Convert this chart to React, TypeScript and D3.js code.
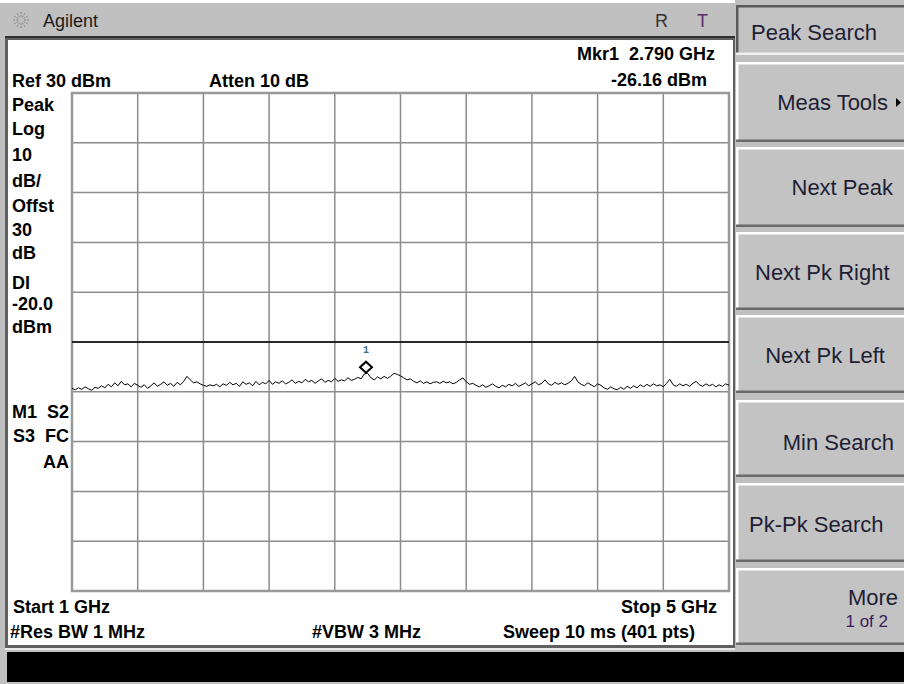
import React from 'react';
import * as d3 from 'd3';

const startGHz = 1;
const stopGHz = 5;
const refLevel = 30;
const dbPerDiv = 10;
const numDivs = 10;
const displayLine = -20;
const markerFreq = 2.79;
const markerLevel = -26.16;

const trace: number[] = [
  -29.3, -29.6, -29.2, -29.5, -29.0, -29.4, -29.7, -29.1, -29.3, -28.8, -29.2,
  -28.5, -29.0, -28.2, -28.8, -27.9, -28.6, -28.4, -29.0, -28.3, -28.7,
  -29.1, -28.6, -29.3, -28.8, -28.2, -28.9, -28.5, -28.0, -28.7, -28.3,
  -28.9, -28.1, -28.6, -27.9, -26.9,
  -27.6, -28.2, -28.0, -28.4, -28.7, -28.9, -28.6, -28.8, -28.5, -29.0,
  -28.4, -28.7, -28.1, -28.6, -28.3, -28.9, -28.0, -28.5, -28.2, -28.8,
  -27.9, -28.6, -28.1, -28.4, -27.7, -28.5, -28.0, -28.3, -27.8, -28.4,
  -28.1, -27.6, -28.3, -27.9, -28.2, -27.5, -28.0, -27.7, -28.3, -27.8,
  -27.4, -28.1, -27.7, -28.0, -27.3, -27.9, -27.6, -27.8, -27.2, -27.7,
  -27.5, -27.1, -27.4, -26.4, -26.3, -27.2, -27.6, -27.0, -27.4, -26.9,
  -27.3, -26.9, -26.3, -26.5, -26.8, -27.2, -27.6, -27.4, -27.9, -28.2, -27.8, -28.3, -28.0, -28.4, -28.1,
  -28.0, -28.3, -27.9, -28.2, -28.0, -28.4, -28.1, -27.6, -27.2, -28.0,
  -28.5, -28.3, -28.7, -29.0, -28.6, -29.1, -28.8, -28.4, -28.9, -29.2,
  -28.7, -29.0, -28.5, -28.8, -28.3, -28.9, -28.6, -28.2, -28.8, -28.4,
  -28.0, -28.6, -28.3, -27.6, -28.4, -28.7, -28.1, -28.5, -28.2, -28.6,
  -28.3, -27.8, -26.9, -28.0, -28.5, -28.8, -28.2, -28.6, -29.0, -28.4,
  -28.7, -29.2, -29.5, -29.0, -29.4, -29.6, -29.1, -29.5, -28.9, -29.3,
  -28.8, -29.2, -28.6, -29.0, -28.5, -28.9, -28.4, -28.8, -28.6, -29.0,
  -28.3, -27.5, -28.6, -28.9, -28.4, -28.8, -28.5, -28.9, -28.3, -27.9,
  -28.6, -28.9, -28.4, -28.8, -28.5, -29.0, -28.6, -28.9, -28.4, -28.7,
];

const leftLabels = ['Peak', 'Log', '10', 'dB/', 'Offst', '30', 'dB', 'DI', '-20.0', 'dBm'];
const softkeys = ['Peak Search', 'Meas Tools', 'Next Peak', 'Next Pk Right', 'Next Pk Left', 'Min Search', 'Pk-Pk Search', 'More'];

const BOLD = "'Liberation Sans', Arial, sans-serif";

export default function App() {
  const gx0 = 72, gx1 = 729, gy0 = 93, gy1 = 591;
  const x = d3.scaleLinear().domain([startGHz, stopGHz]).range([gx0, gx1]);
  const y = d3.scaleLinear().domain([refLevel - dbPerDiv * numDivs, refLevel]).range([gy1, gy0]);
  const n = trace.length;
  const freqs = d3.range(n).map((i) => startGHz + (i * (stopGHz - startGHz)) / (n - 1));
  const line = d3.line<number>().x((_, i) => x(freqs[i])).y((d) => y(d));
  const vTicks = d3.range(numDivs + 1).map((i) => startGHz + (i * (stopGHz - startGHz)) / numDivs);
  const hTicks = d3.range(numDivs + 1).map((i) => refLevel - i * dbPerDiv);

  const mx = x(markerFreq);
  const my = y(markerLevel);

  const leftY = [111, 135, 161, 187, 212, 236, 259, 289, 310, 333];
  const keyTops = [5, 62, 147, 232, 315, 400, 483, 568];
  const keyH = [50, 80, 80, 78, 78, 77, 79, 77];

  const burst = d3.range(12).map((i) => {
    const a = (i * Math.PI) / 6;
    return { x1: 21 + Math.cos(a) * 3, y1: 20 + Math.sin(a) * 3, x2: 21 + Math.cos(a) * 8, y2: 20 + Math.sin(a) * 8 };
  });

  const keyText = (k: string, i: number) => {
    const top = keyTops[i];
    const fs = 22;
    const col = '#1e1e34';
    switch (i) {
      case 0:
        return <text x={751} y={40} fontSize={fs} fill={col}>{k}</text>;
      case 1:
        return (
          <g>
            <text x={888} y={110} fontSize={fs} fill={col} textAnchor="end">{k}</text>
            <path d="M896,98 L901,102.5 L896,107 Z" fill="#000" />
          </g>
        );
      case 2:
        return <text x={893} y={195} fontSize={fs} fill={col} textAnchor="end">{k}</text>;
      case 3:
        return <text x={755} y={280} fontSize={fs} fill={col}>{k}</text>;
      case 4:
        return <text x={885} y={363} fontSize={fs} fill={col} textAnchor="end">{k}</text>;
      case 5:
        return <text x={894} y={450} fontSize={fs} fill={col} textAnchor="end">{k}</text>;
      case 6:
        return <text x={749} y={532} fontSize={fs} fill={col}>{k}</text>;
      default:
        return (
          <g>
            <text x={898} y={605} fontSize={fs} fill={col} textAnchor="end">{k}</text>
            <text x={888} y={627} fontSize={17} fill="#3a1a5a" textAnchor="end">1 of 2</text>
          </g>
        );
    }
  };

  return (
    <svg width={904} height={684} style={{ position: 'absolute', left: 0, top: 0 }} fontFamily={BOLD}>
      <rect x={0} y={0} width={904} height={684} fill="#c0c0c0" />
      <rect x={0} y={0} width={735} height={3} fill="#ffffff" />
      {/* title bar */}
      <g stroke="#8a8a8a" strokeWidth={1} strokeDasharray="2,1">
        {burst.map((b, i) => (
          <line key={i} x1={b.x1} y1={b.y1} x2={b.x2} y2={b.y2} />
        ))}
      </g>
      <text x={43} y={27} fontSize={18} fill="#1a1a1a">Agilent</text>
      <text x={655} y={27} fontSize={18} fill="#333">R</text>
      <text x={697} y={27} fontSize={18} fill="#5a2a6a">T</text>

      {/* main white panel */}
      <rect x={5} y={36} width={730} height={612} fill="#606060" />
      <rect x={5} y={36} width={730} height={2} fill="#303030" />
      <rect x={8} y={40} width={725} height={605} fill="#ffffff" />
      <rect x={5} y={648} width={730} height={2} fill="#e8e8e8" />

      {/* black status bar */}
      <rect x={7} y={652} width={897} height={30} fill="#000" />

      {/* grid */}
      <g stroke="#8c8c8c" strokeWidth={1.5}>
        {vTicks.map((f, i) => (
          <line key={'v' + i} x1={x(f)} x2={x(f)} y1={gy0} y2={gy1} />
        ))}
        {hTicks.map((d, i) => (
          <line key={'h' + i} x1={gx0} x2={gx1} y1={y(d)} y2={y(d)} />
        ))}
      </g>
      <rect x={gx0} y={gy0} width={gx1 - gx0} height={gy1 - gy0} fill="none" stroke="#999" strokeWidth={2.5} />
      <line x1={gx0} x2={gx1} y1={y(displayLine)} y2={y(displayLine)} stroke="#000" strokeWidth={1.5} />

      {/* trace */}
      <path d={line(trace) || ''} fill="none" stroke="#000" strokeWidth={1} />

      {/* marker */}
      <path
        d={`M${mx},${my - 11} L${mx + 6},${my - 5.5} L${mx},${my} L${mx - 6},${my - 5.5} Z`}
        fill="#fff"
        stroke="#000"
        strokeWidth={2}
      />
      <text x={mx} y={my - 20} fontSize={10} fontWeight="bold" fill="#3c7080" textAnchor="middle" fontFamily="'Liberation Mono', monospace">1</text>

      {/* annotation text */}
      <g fontWeight="bold" fontSize={18} fill="#000">
        <text x={715} y={60} textAnchor="end" xmlSpace="preserve">Mkr1  2.790 GHz</text>
        <text x={12} y={87}>Ref 30 dBm</text>
        <text x={209} y={87}>Atten 10 dB</text>
        <text x={707} y={86} textAnchor="end">-26.16 dBm</text>
        {leftLabels.map((l, i) => (
          <text key={l + i} x={12} y={leftY[i]}>{l}</text>
        ))}
        <text x={12} y={418}>M1</text>
        <text x={69} y={418} textAnchor="end">S2</text>
        <text x={13} y={442}>S3</text>
        <text x={69} y={442} textAnchor="end">FC</text>
        <text x={69} y={468} textAnchor="end">AA</text>
        <text x={13} y={613}>Start 1 GHz</text>
        <text x={717} y={613} textAnchor="end">Stop 5 GHz</text>
        <text x={10} y={638}>#Res BW 1 MHz</text>
        <text x={312} y={638}>#VBW 3 MHz</text>
        <text x={503} y={638}>Sweep 10 ms (401 pts)</text>
      </g>

      {/* softkeys */}
      {softkeys.map((k, i) => {
        const top = keyTops[i];
        const h = keyH[i];
        const pressed = i === 0;
        const lt = pressed ? '#5a5a5a' : '#ffffff';
        const dk = pressed ? '#f0f0f0' : '#6a6a6a';
        return (
          <g key={k}>
            <rect x={736} y={top} width={168} height={h} fill="#c3c3c3" />
            <rect x={736} y={top} width={168} height={2.5} fill={lt} />
            <rect x={736} y={top} width={2.5} height={h} fill={lt} />
            <rect x={736} y={top + h - 2.5} width={168} height={2.5} fill={dk} />
            {keyText(k, i)}
          </g>
        );
      })}
    </svg>
  );
}
